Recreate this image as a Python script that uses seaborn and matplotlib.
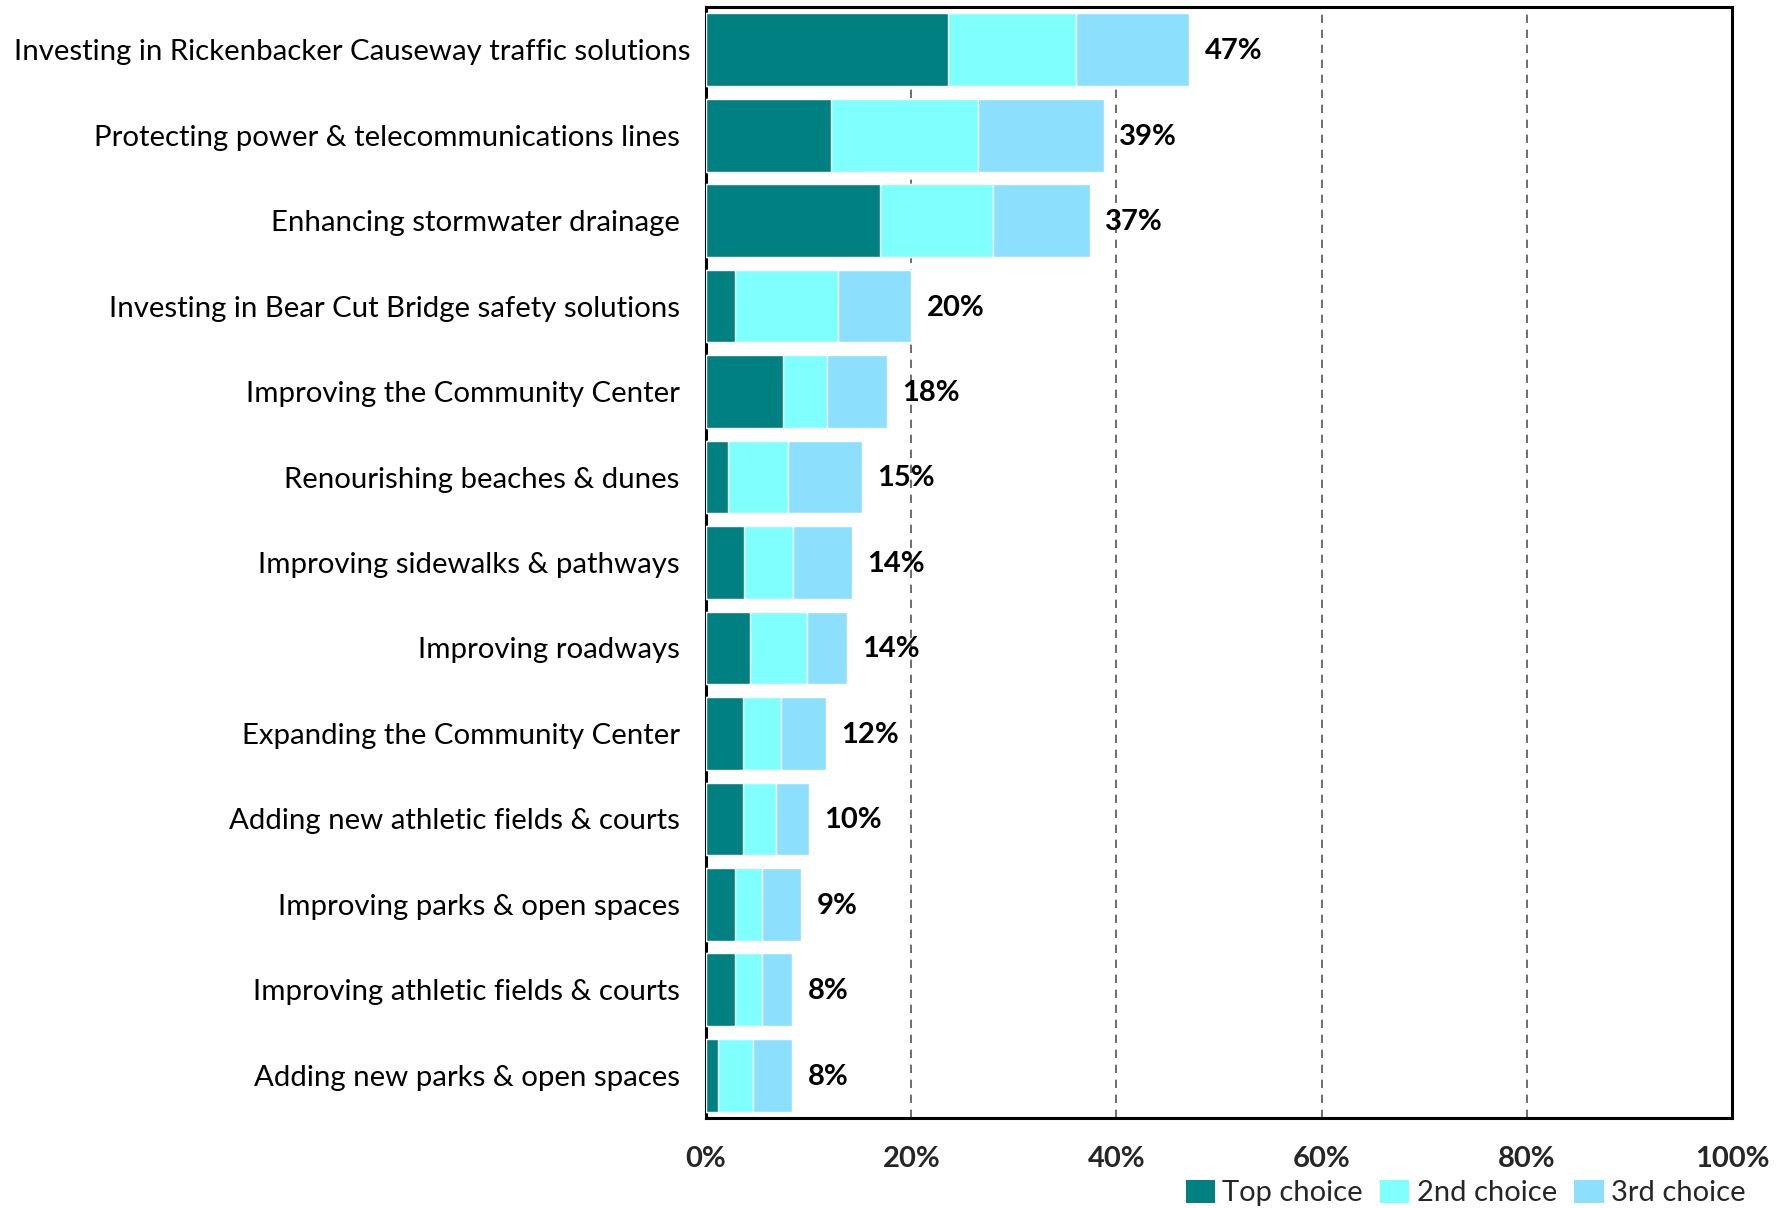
import numpy as np
import pandas as pd
import matplotlib
matplotlib.use("Agg")
import matplotlib.pyplot as plt
import matplotlib.transforms as mtransforms
from matplotlib.patches import Patch
import seaborn as sns

# Survey results: share of respondents ranking each project 1st / 2nd / 3rd (%)
categories = [
    "Investing in Rickenbacker Causeway traffic solutions",
    "Protecting power & telecommunications lines",
    "Enhancing stormwater drainage",
    "Investing in Bear Cut Bridge safety solutions",
    "Improving the Community Center",
    "Renourishing beaches & dunes",
    "Improving sidewalks & pathways",
    "Improving roadways",
    "Expanding the Community Center",
    "Adding new athletic fields & courts",
    "Improving parks & open spaces",
    "Improving athletic fields & courts",
    "Adding new parks & open spaces",
]
top_choice = [23.6, 12.2, 17.0, 2.8, 7.5, 2.1, 3.7, 4.3, 3.6, 3.6, 2.8, 2.8, 1.2]
second_choice = [12.5, 14.3, 11.0, 10.1, 4.3, 5.9, 4.8, 5.5, 3.7, 3.2, 2.7, 2.7, 3.4]
third_choice = [11.0, 12.3, 9.4, 7.1, 5.8, 7.2, 5.7, 3.9, 4.4, 3.2, 3.8, 2.9, 3.8]
series_names = ["Top choice", "2nd choice", "3rd choice"]
x_ticks = [0, 20, 40, 60, 80, 100]

colors = ["#008080", "#80FFFF", "#8CE0FE"]

df = pd.DataFrame({
    "category": categories,
    "top": top_choice,
    "second": second_choice,
    "third": third_choice,
})
df["top_second"] = df["top"] + df["second"]
df["total"] = df["top_second"] + df["third"]

sns.set_theme(style="white")
plt.rcParams["font.family"] = ["Lato", "DejaVu Sans"]

fig = plt.figure(figsize=(17.83, 12.08), dpi=100)
ax = fig.add_axes([0.396, 0.0745, 0.5754, 0.9197])

ax.set_axisbelow(True)
for xv in x_ticks[1:-1]:
    ax.axvline(xv, color="#555555", lw=1.2, ls=(0, (5, 4)), zorder=0)

# Stacked bars drawn as overlapping cumulative bars
bar_w = 0.85
sns.barplot(data=df, y="category", x="total", color=colors[2], width=bar_w,
            saturation=1, orient="h", ax=ax, zorder=2)
sns.barplot(data=df, y="category", x="top_second", color=colors[1], width=bar_w,
            saturation=1, orient="h", ax=ax, zorder=3)
sns.barplot(data=df, y="category", x="top", color=colors[0], width=bar_w,
            saturation=1, orient="h", ax=ax, zorder=4)

for i, tot in enumerate(df["total"]):
    ax.annotate(f"{tot:.0f}%", xy=(tot, i), xytext=(11, -1),
                textcoords="offset points", va="center", ha="left",
                fontsize=21, fontweight="bold", color="black")

ax.set_xlim(0, 100)
ax.set_ylim(len(categories) - 0.5, -0.5)
ax.set_xticks(x_ticks)
ax.set_xticklabels([f"{v}%" for v in x_ticks], fontsize=21, fontweight="bold")
ax.tick_params(axis="x", length=0, pad=20)
ax.tick_params(axis="y", length=0, pad=19, labelsize=21.2)
ax.set_xlabel("")
ax.set_ylabel("")
for lbl in ax.get_yticklabels():
    lbl.set_color("black")

# the longest label sits slightly further right
first = ax.get_yticklabels()[0]
first.set_transform(first.get_transform() +
                    mtransforms.ScaledTranslation(0.11, 0, fig.dpi_scale_trans))

for side in ["left", "right", "top", "bottom"]:
    ax.spines[side].set_visible(True)
    ax.spines[side].set_color("black")
    ax.spines[side].set_linewidth(2.2)

handles = [Patch(facecolor=c, edgecolor="none") for c in colors]
fig.legend(handles, series_names, loc="center", bbox_to_anchor=(0.822, 0.0125),
           ncol=3, frameon=False, fontsize=21, handlelength=1.0,
           handleheight=0.85, handletextpad=0.25, columnspacing=0.6,
           borderaxespad=0)

fig.savefig("out.png", dpi=100)
